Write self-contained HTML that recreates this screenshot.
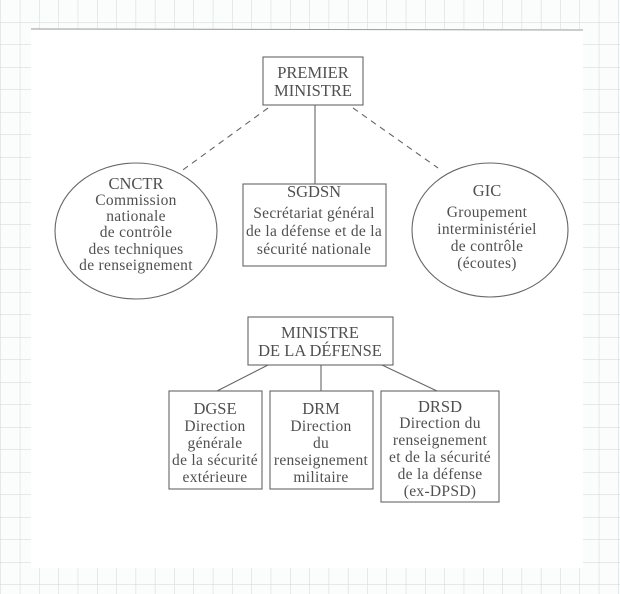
<!DOCTYPE html>
<html><head><meta charset="utf-8"><style>
html,body{margin:0;padding:0;width:620px;height:594px;overflow:hidden;background:#fbfcfc;}
svg{display:block}
text{font-family:"Liberation Serif",serif;fill:#505050;text-anchor:middle;font-size:15.5px;letter-spacing:0.3px;}
.t{font-size:16.5px;letter-spacing:0;}
</style></head><body>
<svg width="620" height="594" viewBox="0 0 620 594">
<defs>
<pattern id="g" x="1" y="0" width="19.3" height="22.5" patternUnits="userSpaceOnUse">
<path d="M19.3 0V22.5M0 22.5H19.3" stroke="#cdd8d8" stroke-width="1" fill="none"/>
</pattern>
</defs>
<rect width="620" height="594" fill="url(#g)"/>
<rect x="31" y="29" width="552" height="539" fill="#fff"/>
<line x1="31" y1="29" x2="583" y2="30" stroke="#999" stroke-width="1"/>
<g stroke="#666" stroke-width="1.1" fill="none">
<rect x="263" y="57" width="100" height="48"/>
<line x1="315" y1="105" x2="315" y2="184"/>
<line x1="268" y1="108" x2="180" y2="172" stroke-dasharray="6,5"/>
<line x1="353" y1="108" x2="438" y2="168" stroke-dasharray="6,5"/>
<ellipse cx="136" cy="231" rx="81" ry="68"/>
<ellipse cx="490" cy="230" rx="78" ry="67"/>
<rect x="243" y="184" width="143" height="82"/>
<rect x="248" y="317" width="145" height="48"/>
<line x1="268" y1="365" x2="217" y2="391"/>
<line x1="321" y1="365" x2="321" y2="391"/>
<line x1="382" y1="365" x2="437" y2="391"/>
<rect x="169" y="391" width="93" height="98"/>
<rect x="270" y="391" width="103" height="98"/>
<rect x="381" y="391" width="118" height="111"/>
</g>
<text class="t" x="313" y="78">PREMIER</text>
<text class="t" x="313" y="96">MINISTRE</text>
<text class="t" x="136" y="189">CNCTR</text>
<text x="136" y="205">Commission</text>
<text x="136" y="221">nationale</text>
<text x="136" y="237">de contrôle</text>
<text x="136" y="254">des techniques</text>
<text x="136" y="270">de renseignement</text>
<text class="t" x="314" y="197">SGDSN</text>
<text x="314" y="218">Secrétariat général</text>
<text x="314" y="236">de la défense et de la</text>
<text x="314" y="254">sécurité nationale</text>
<text class="t" x="487" y="196">GIC</text>
<text x="487" y="217">Groupement</text>
<text x="487" y="234">interministériel</text>
<text x="487" y="251">de contrôle</text>
<text x="487" y="268">(écoutes)</text>
<text class="t" x="320" y="338">MINISTRE</text>
<text class="t" x="320" y="356">DE LA DÉFENSE</text>
<text class="t" x="215" y="414">DGSE</text>
<text x="215" y="431">Direction</text>
<text x="215" y="448">générale</text>
<text x="215" y="465">de la sécurité</text>
<text x="215" y="482">extérieure</text>
<text class="t" x="321" y="414">DRM</text>
<text x="321" y="431">Direction</text>
<text x="321" y="448">du</text>
<text x="321" y="465">renseignement</text>
<text x="321" y="482">militaire</text>
<text class="t" x="440" y="412">DRSD</text>
<text x="440" y="428">Direction du</text>
<text x="440" y="445">renseignement</text>
<text x="440" y="462">et de la sécurité</text>
<text x="440" y="479">de la défense</text>
<text x="440" y="496">(ex-DPSD)</text>
</svg>
</body></html>
